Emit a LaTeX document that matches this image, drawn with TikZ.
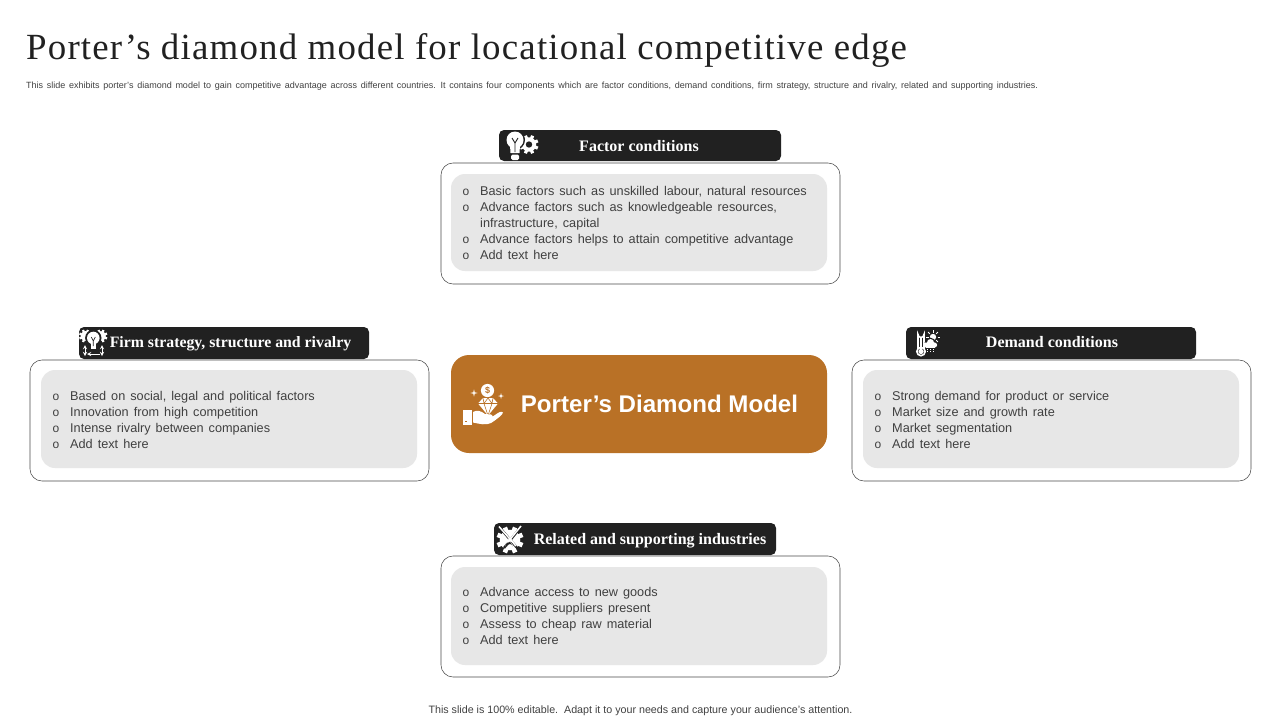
\documentclass[tikz,border=0pt]{standalone}
\usepackage{fontspec}
\setmainfont{Liberation Sans}
\newfontfamily\titlefont[LetterSpace=3.2]{Liberation Serif}
\newfontfamily\headfont{Liberation Serif}
\definecolor{hdr}{HTML}{212121}
\definecolor{pane}{HTML}{E7E7E7}
\definecolor{ink}{HTML}{404040}
\definecolor{edge}{HTML}{4A4A4A}
\definecolor{amber}{HTML}{B97126}
\newcommand{\bl}{\hspace{1.5pt}{\fontsize{12}{12}\selectfont o}}
\newcommand{\bodyrows}[1]{\begin{tabular}{@{}p{19pt}@{}l@{}}#1\end{tabular}}
\newcommand{\gearshape}[3]{% cx cy r
  \fill[white] (#1,#2) circle (#3*0.76);
  \foreach \a in {22.5,67.5,...,337.5}{\fill[white,rotate around={\a:(#1,#2)}] (#1-#3*0.17,#2) rectangle (#1+#3*0.17,#2-#3);}
}
\tikzset{
  x=1pt,y=-1pt,
  outerbox/.style={draw=edge,line width=0.55pt,rounded corners=12pt,fill=white},
  panebox/.style={fill=pane,rounded corners=14pt},
  headbox/.style={fill=hdr,rounded corners=5pt},
  headtext/.style={anchor=base,text=white,font=\headfont\bfseries\fontsize{16}{16}\selectfont,inner sep=0pt},
  bodytext/.style={text=ink,anchor=north west,inner sep=0pt,font=\fontsize{12.7}{16}\selectfont,
    execute at begin node={\setlength{\tabcolsep}{0pt}\def\arraystretch{1}\setlength{\baselineskip}{16pt}\setlength{\normalbaselineskip}{16pt}\spaceskip=1.42\fontdimen2\font plus 0.5pt}},
}
\begin{document}
\begin{tikzpicture}
\useasboundingbox (0,0) rectangle (1280,720);
\node[anchor=base west,inner sep=0pt,text=hdr,font=\titlefont\fontsize{36.9}{36.9}\selectfont] (title) at (26,59) {Porter’s diamond model for locational competitive edge};
\node[anchor=base west,inner sep=0pt,text=ink,font=\fontsize{9}{9}\selectfont,execute at begin node={\spaceskip=3.72pt}] (subtitle) at (26,88) {This slide exhibits porter's diamond model to gain competitive advantage across different countries. It contains four components which are factor conditions, demand conditions, firm strategy, structure and rivalry, related and supporting industries.};

% Factor
\draw[outerbox] (441,163) rectangle (840,284);
\fill[panebox] (451,174) rectangle (827,271);
\fill[headbox] (499,130) rectangle (781,161);
\node[headtext] (factorhead) at (639,151) {Factor conditions};
\node[bodytext] (factorbody) at (461,184) {\bodyrows{\bl & Basic factors such as unskilled labour, natural resources\\ \bl & Advance factors such as knowledgeable resources,\\ & infrastructure, capital\\ \bl & Advance factors helps to attain competitive advantage\\ \bl & Add text here}};

% Firm
\draw[outerbox] (30,360) rectangle (429,481);
\fill[panebox] (41,370) rectangle (417,468);
\fill[headbox] (79,327) rectangle (369,359);
\node[headtext,font=\headfont\bfseries\fontsize{15.8}{16}\selectfont] (firmhead) at (230.5,347) {Firm strategy, structure and rivalry};
\node[bodytext] (firmbody) at (51,389) {\bodyrows{\bl & Based on social, legal and political factors\\ \bl & Innovation from high competition\\ \bl & Intense rivalry between companies\\ \bl & Add text here}};

% Demand
\draw[outerbox] (852,360) rectangle (1251,481);
\fill[panebox] (863,370) rectangle (1239,468);
\fill[headbox] (906,327) rectangle (1196,359);
\node[headtext] (demandhead) at (1052,347) {Demand conditions};
\node[bodytext] (demandbody) at (873,389) {\bodyrows{\bl & Strong demand for product or service\\ \bl & Market size and growth rate\\ \bl & Market segmentation\\ \bl & Add text here}};

% Related
\draw[outerbox] (441,556) rectangle (840,677);
\fill[panebox] (451,567) rectangle (827,665);
\fill[headbox] (494,523) rectangle (776,555);
\node[headtext] (relatedhead) at (650,544) {Related and supporting industries};
\node[bodytext] (relatedbody) at (461,585) {\bodyrows{\bl & Advance access to new goods\\ \bl & Competitive suppliers present\\ \bl & Assess to cheap raw material\\ \bl & Add text here}};

% Centre
\fill[amber,rounded corners=18pt] (451,355) rectangle (827,453);
\node[anchor=base,inner sep=0pt,text=white,font=\bfseries\fontsize{24.1}{25}\selectfont] (centre) at (659.5,412.5) {Porter’s Diamond Model};

\node[anchor=base,inner sep=0pt,text=ink,font=\fontsize{10.7}{11}\selectfont] (foot) at (640.5,713) {This slide is 100\% editable.\ \ Adapt it to your needs and capture your audience's attention.};

% Icon: bulb + gear
\gearshape{529}{144.5}{9.5}
\fill[hdr] (529,144.5) circle (3.2);
\fill[hdr] (515,140) circle (10);
\fill[white] (515,140) circle (8.5);
\fill[white] (510,145) -- (520,145) -- (519.5,153) -- (510.5,153) -- cycle;
\fill[white,rounded corners=1.5pt] (511,154.5) rectangle (519,160);
\draw[hdr,line width=0.9pt] (512,138) -- (515,143) -- (518,138) (515,143) -- (515,152);

% Icon: firm
\gearshape{85.5}{336}{6.5}
\gearshape{101}{336}{6.5}
\fill[hdr] (93.3,338) circle (8.2);
\fill[white] (93.3,338) circle (6.3);
\fill[white] (90.5,341) rectangle (96,349);
\draw[hdr,line width=0.7pt] (91.3,337) -- (93.3,341) -- (95.3,337) (93.3,341) -- (93.3,346);
\draw[white,line width=0.9pt,<->,>=stealth] (85,345) -- (85,356);
\draw[white,line width=0.9pt,<->,>=stealth] (102,345) -- (102,356);
\draw[white,line width=0.9pt,<-,>=stealth] (87,354) -- (100,354);

% Icon: thermometer
\draw[white,line width=1.6pt] (918,349) -- (918,334.5) arc[start angle=180,end angle=0,radius=3] -- (924,349);
\draw[white,line width=1.6pt] (921,351.5) circle (4.2);
\fill[white] (921,351.5) circle (2.6);
\fill[white] (920,338) rectangle (922,351);
\fill[white] (933,337) circle (3.2);
\foreach \a in {0,45,...,315}{\draw[white,line width=0.8pt] (933,337) ++(\a:4.5) -- ++(\a:2.5);}
\fill[hdr] (930,343) circle (5.5);
\fill[white] (926,345) circle (2.6) (930.5,342.5) circle (3.5) (934.5,345) circle (2.6);
\fill[white] (926,345) rectangle (935,347.6);
\draw[white,line width=0.7pt,dash pattern=on 1pt off 1pt] (927,349) -- (927,353) (930,349) -- (930,353) (933,349) -- (933,353);

% Icon: gear with tools
\gearshape{510}{540}{13.5}
\draw[hdr,line width=2.4pt] (501,529) -- (518,549);
\draw[hdr,line width=2.4pt] (520,528) -- (504,548);
\draw[white,line width=1.5pt] (499,526.5) -- (516,546);
\draw[white,line width=1.5pt] (521,526) -- (508,542);
\fill[white] (510,537) .. controls (512.5,541) and (515,543) .. (515,546.5) arc[start angle=0,end angle=-180,radius=5] .. controls (505,543) and (507.5,541) .. (510,537) -- cycle;
\fill[hdr] (510,542) .. controls (511,544) and (512.5,545) .. (512.5,546.5) arc[start angle=0,end angle=-180,radius=2.5] .. controls (507.5,545) and (509,544) .. (510,542) -- cycle;

% Icon: hand and diamond
\fill[white] (487.5,390.5) circle (6.6);
\node[text=amber,inner sep=0pt,font=\bfseries\fontsize{9}{9}\selectfont] (dollar) at (487.5,390.5) {\$};
\fill[white] (483,398) -- (493,398) -- (498,403.5) -- (488,415.5) -- (478,403.5) -- cycle;
\draw[amber,line width=0.6pt] (478,403.5) -- (498,403.5) (483,398) -- (484,403.5) -- (488,415.5) -- (492,403.5) -- (493,398) (484,403.5) -- (488,398) -- (492,403.5);
\fill[white] (463,410) rectangle (472,425);
\fill[amber] (464.5,420.5) rectangle (466.5,422);
\fill[white] (473,412) .. controls (477,409.5) and (481,411) .. (485,414) -- (491,414.5) .. controls (493,415) and (493,417) .. (491,417.5) -- (495,415) .. controls (498,413) and (501,410.5) .. (503,412.5) .. controls (503.5,414) and (496,420) .. (491,423) .. controls (486,425.5) and (480,424) .. (473,422.5) -- cycle;
\foreach \p/\r in {{474,393}/3.6,{501,396}/3}{
  \fill[white] (\p) ++(-\r,0) -- ++(\r*0.8,-\r*0.2) -- ++(\r*0.2,-\r*0.8) -- ++(\r*0.2,\r*0.8) -- ++(\r*0.8,\r*0.2) -- ++(-\r*0.8,\r*0.2) -- ++(-\r*0.2,\r*0.8) -- ++(-\r*0.2,-\r*0.8) -- cycle;
}
\end{tikzpicture}
\end{document}
